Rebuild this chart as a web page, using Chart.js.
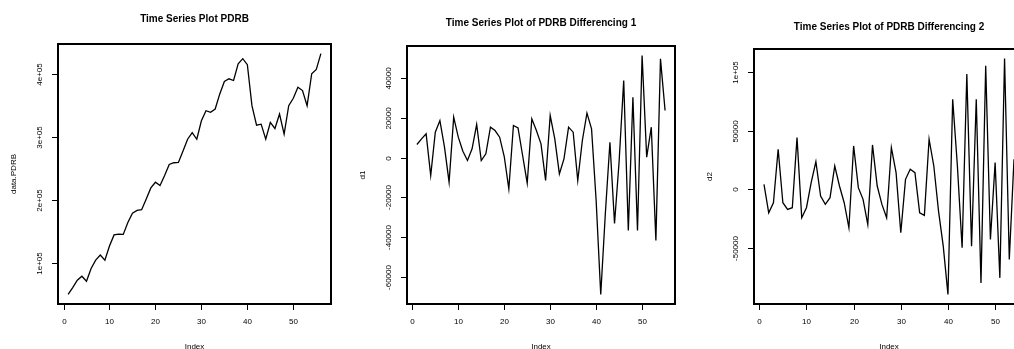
<!DOCTYPE html>
<html>
<head>
<meta charset="utf-8">
<script src="https://cdn.jsdelivr.net/npm/chart.js@4/dist/chart.umd.min.js"></script>
<style>
  html, body { margin: 0; padding: 0; background: #ffffff; overflow: hidden; width: 1014px; height: 349px; }
  .panel { position: absolute; top: 0; width: 348px; height: 349px; }
</style>
</head>
<body>
<div class="panel" style="left:0px"><canvas id="c1" width="348" height="349"></canvas></div>
<div class="panel" style="left:348px"><canvas id="c2" width="348" height="349"></canvas></div>
<div class="panel" style="left:696px"><canvas id="c3" width="348" height="349"></canvas></div>
<script>
// ---------------- data ----------------
const titles = [
  "Time Series Plot PDRB",
  "Time Series Plot of PDRB Differencing 1",
  "Time Series Plot of PDRB Differencing 2"
];
const yTitles = ["data.PDRB", "d1", "d2"];
const xTitle = "Index";

const xTickValues = [0, 10, 20, 30, 40, 50];
const xTickLabels = ["0", "10", "20", "30", "40", "50"];

// series 1: PDRB level
const pdrb = [
  50560, 61190, 72890, 79270, 71290, 91490, 104780, 112760, 104780, 127110,
  144650, 146000, 145500, 164320, 179210, 183460, 184520, 201540, 219080, 228120,
  222800, 238750, 256290, 258950, 259500, 277550, 296160, 306790, 296160, 325400,
  341350, 338690, 344000, 367930, 387600, 391850, 389190, 415770, 423740, 414180,
  349320, 318490, 320080, 296160, 322740, 313170, 336030, 304130, 349320, 361020,
  378560, 373240, 349320, 399820, 406730, 431720
];
const pdrbTickValues = [100000, 200000, 300000, 400000];
const pdrbTickLabels = ["1e+05", "2e+05", "3e+05", "4e+05"];

// series 2: first difference
const diff1 = [
  6500, 9330, 11840, -9000, 12670, 18500, 5170, -12330, 20170, 10170,
  3170, -1500, 4330, 16500, -1500, 1830, 15170, 13500, 10170, 500,
  -15670, 16000, 14840, 1000, -12840, 19340, 13500, 6830, -11500, 21000,
  9330, -8170, -670, 15170, 12670, -11500, 8500, 22170, 14340, -21500,
  -68500, -28170, 7670, -33000, -2000, 38500, -36500, 30170, -36500, 51000,
  170, 15170, -41500, 49340, 23500
];
const diff1TickValues = [-60000, -40000, -20000, 0, 20000, 40000];
const diff1TickLabels = ["-60000", "-40000", "-20000", "0", "20000", "40000"];

// series 3: second difference
const diff2 = [
  4290, -20000, -11430, 34290, -11430, -17140, -15710, 44290, -24290, -15710,
  5710, 23710, -5710, -12860, -7140, 20000, 2860, -11430, -32860, 37140,
  1430, -8570, -30000, 38000, 2860, -12860, -24290, 35710, 14290, -37140,
  8570, 17140, 14290, -20000, -22290, 42860, 20000, -18570, -48570, -90000,
  77140, 20000, -50000, 98570, -48570, 77140, -80000, 105710, -42860, 22860,
  -75710, 112000, -60000, 25710
];
const diff2TickValues = [-50000, 0, 50000, 100000];
const diff2TickLabels = ["-50000", "0", "50000", "1e+05"];

// ---------------- drawing ----------------
const FONT = "'Liberation Sans', Arial, Helvetica, sans-serif";

function rPad(min, max) { const p = (max - min) * 0.04; return [min - p, max + p]; }

const frame = {
  id: 'rframe',
  afterDraw(chart, args, o) {
    const ctx = chart.ctx, a = chart.chartArea;
    const xs = chart.scales.x, ys = chart.scales.y;
    ctx.save();
    ctx.strokeStyle = '#000';
    ctx.fillStyle = '#000';
    // box
    ctx.lineWidth = 2;
    ctx.strokeRect(a.left, a.top, a.right - a.left, a.bottom - a.top);
    // x ticks
    ctx.lineWidth = 1;
    ctx.font = '8px ' + FONT;
    ctx.textAlign = 'center';
    ctx.textBaseline = 'middle';
    o.xTicks.forEach((v, i) => {
      const px = Math.round(xs.getPixelForValue(v)) + 0.5;
      ctx.beginPath(); ctx.moveTo(px, a.bottom); ctx.lineTo(px, a.bottom + 6); ctx.stroke();
      ctx.fillText(o.xLabels[i], px, 322);
    });
    // y ticks (rotated labels, R style)
    o.yTicks.forEach((v, i) => {
      const py = Math.round(ys.getPixelForValue(v)) + 0.5;
      ctx.beginPath(); ctx.moveTo(a.left, py); ctx.lineTo(a.left - 6, py); ctx.stroke();
      ctx.save();
      ctx.translate(a.left - 18, py);
      ctx.rotate(-Math.PI / 2);
      ctx.fillText(o.yLabels[i], 0, 0);
      ctx.restore();
    });
    // axis titles
    const cx = (a.left + a.right) / 2, cy = (a.top + a.bottom) / 2;
    ctx.fillText(o.xTitle, cx, 347);
    ctx.save();
    ctx.translate(a.left - 44, cy);
    ctx.rotate(-Math.PI / 2);
    ctx.fillText(o.yTitle, 0, 0);
    ctx.restore();
    // main title
    ctx.font = 'bold 10px ' + FONT;
    ctx.fillText(o.title, cx, o.titleY);
    ctx.restore();
  }
};

function makePanel(id, values, yTicks, yLabels, title, yTitle, pad, titleY) {
  const n = values.length;
  const [xmin, xmax] = rPad(1, n);
  const [ymin, ymax] = rPad(Math.min(...values), Math.max(...values));
  new Chart(document.getElementById(id), {
    type: 'line',
    data: {
      datasets: [{
        data: values.map((v, i) => ({ x: i + 1, y: v })),
        borderColor: '#000000',
        borderWidth: 1.3,
        pointRadius: 0,
        tension: 0,
        fill: false
      }]
    },
    options: {
      responsive: false,
      animation: false,
      devicePixelRatio: 1,
      layout: { padding: pad },
      plugins: {
        legend: { display: false },
        tooltip: { enabled: false },
        rframe: {
          xTicks: xTickValues, xLabels: xTickLabels,
          yTicks: yTicks, yLabels: yLabels,
          title: title, yTitle: yTitle, xTitle: xTitle, titleY: titleY
        }
      },
      scales: {
        x: { type: 'linear', min: xmin, max: xmax, display: false },
        y: { type: 'linear', min: ymin, max: ymax, display: false }
      }
    },
    plugins: [frame]
  });
}

makePanel('c1', pdrb, pdrbTickValues, pdrbTickLabels, titles[0], yTitles[0],
  { left: 58, right: 17, top: 44, bottom: 45 }, 19);
makePanel('c2', diff1, diff1TickValues, diff1TickLabels, titles[1], yTitles[1],
  { left: 59, right: 21, top: 46, bottom: 45 }, 23);
makePanel('c3', diff2, diff2TickValues, diff2TickLabels, titles[2], yTitles[2],
  { left: 58, right: 20, top: 49, bottom: 45 }, 27);
</script>
</body>
</html>
